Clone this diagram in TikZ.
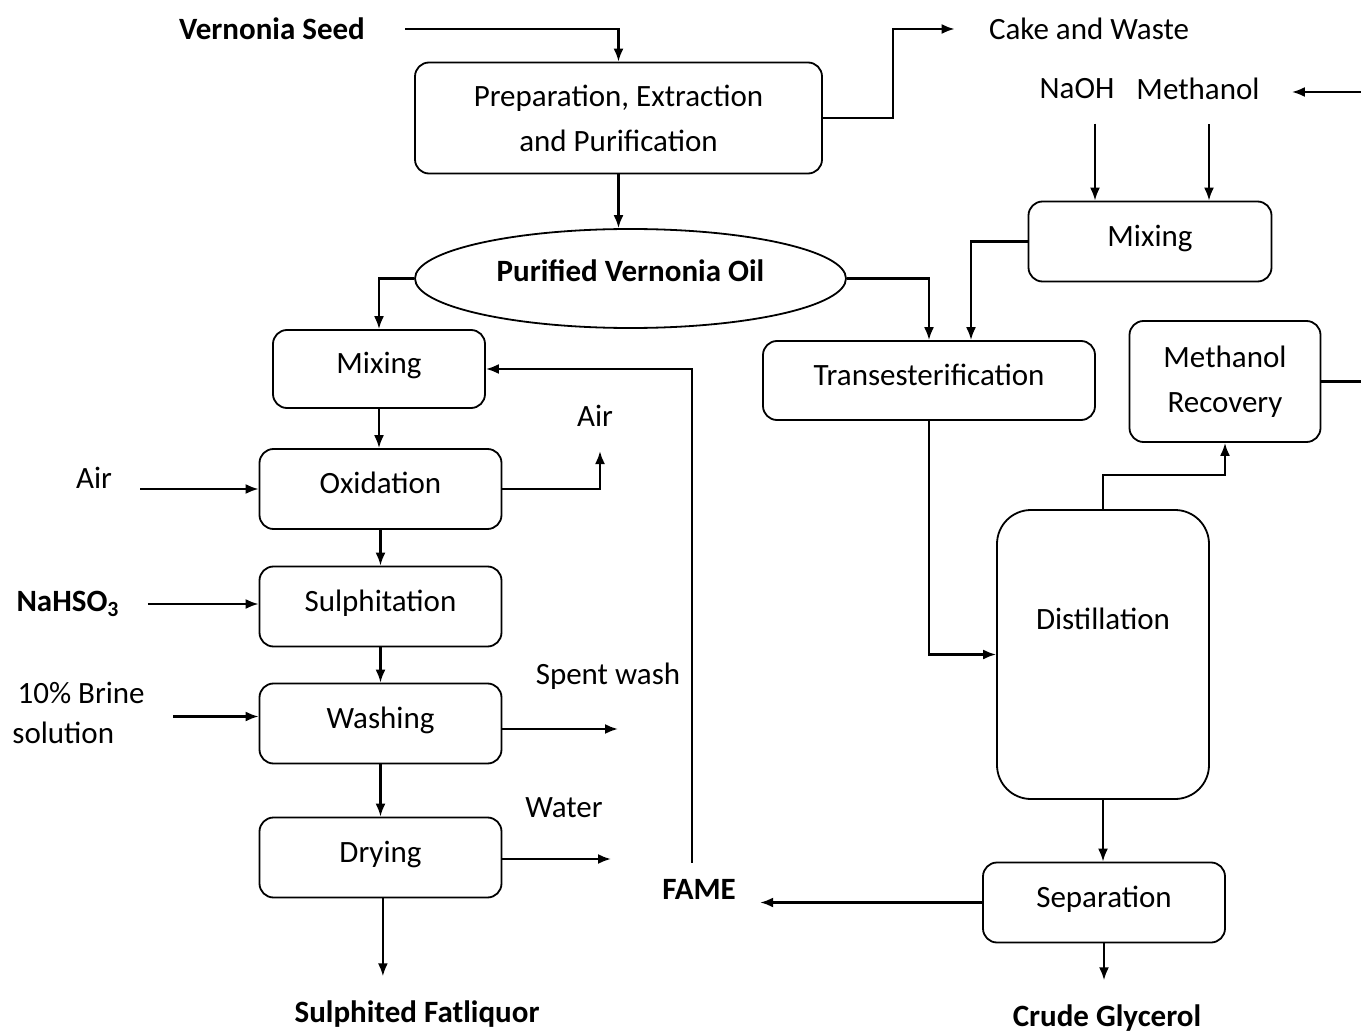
\documentclass[tikz,border=0pt]{standalone}
\usepackage{fontspec}
\setmainfont{Carlito}
\usepackage{tikz}
\usetikzlibrary{arrows.meta,shapes.geometric}
\definecolor{fledge}{RGB}{0,0,0}
\tikzset{
  stage/.style={
    draw=fledge, line width=0.9pt, rounded corners=7pt,
    align=center, inner sep=2pt, font=\fontsize{15.5}{22.5}\selectfont
  },
  step1/.style={stage, text depth=6pt},
  tank/.style={stage, rounded corners=17pt},
  oilbox/.style={
    draw=fledge, line width=0.9pt, ellipse, inner sep=0pt,
    font=\fontsize{15.5}{22.5}\selectfont\bfseries
  },
  lbl/.style={inner sep=2pt, align=center, font=\fontsize{15.5}{20}\selectfont},
  blbl/.style={lbl, font=\fontsize{15.5}{20}\selectfont\bfseries},
  arr/.style={-{Latex[length=6.5pt,width=5pt]}, draw=fledge, line width=1.1pt},
  every picture/.append style={line join=miter}
}

\begin{document}
\begin{tikzpicture}[x=0.5pt,y=-0.5pt]
  % Vernonia oil to fatliquor (left) and biodiesel side (right).
  \useasboundingbox (0,0) rectangle (1361,1032);
  \node[stage, minimum width=203.5pt, minimum height=55.5pt] (prep) at (618.5,118) {Preparation, Extraction\\and Purification};
  \node[oilbox, minimum width=215.5pt, minimum height=49.5pt] (oil) at (630.5,278.5) {\raisebox{7.5pt}{Purified Vernonia Oil}};
  \node[step1, minimum width=106pt, minimum height=39pt] (mixa) at (379,369) {Mixing};
  \node[step1, minimum width=121pt, minimum height=40pt] (ox) at (380.5,489) {Oxidation};
  \node[step1, minimum width=121pt, minimum height=40pt] (sulph) at (380.5,606.5) {Sulphitation};
  \node[step1, minimum width=121pt, minimum height=40pt] (wash) at (380.5,723.5) {Washing};
  \node[step1, minimum width=121pt, minimum height=40pt] (dry) at (380.5,857.5) {Drying};
  \node[step1, minimum width=166pt, minimum height=39.5pt] (trans) at (929,380.5) {Transesterification};
  \node[step1, minimum width=121.5pt, minimum height=40pt] (mixb) at (1150,241.5) {Mixing};
  \node[stage, minimum width=95.5pt, minimum height=60.5pt] (recov) at (1225,381.5) {Methanol\\Recovery};
  \node[tank, minimum width=106pt, minimum height=144.5pt] (dist) at (1103,654.5) {\raisebox{36pt}{Distillation}};
  \node[step1, minimum width=121pt, minimum height=40pt] (sep) at (1104,902.5) {Separation};

  \node[blbl] (seed) at (272,29) {Vernonia Seed};
  \node[lbl] (cake) at (1089,29) {Cake and Waste};
  \node[lbl] (naoh) at (1077,89) {NaOH};
  \node[lbl] (meoh) at (1198,89) {Methanol};
  \node[lbl] (air) at (94,478) {Air};
  \node[blbl] (nahso) at (68,604) {NaHSO\textsubscript{3}};
  \node[lbl, align=left, anchor=west] (brine) at (8,712.5) {\,10\% Brine\\solution};
  \node[lbl] (airout) at (595,416) {Air};
  \node[lbl] (spent) at (608,676) {Spent wash};
  \node[lbl] (water) at (564,808) {Water};
  \node[blbl] (fatliq) at (417,1014) {Sulphited Fatliquor};
  \node[blbl] (fame) at (699,889) {FAME};
  \node[blbl] (glyc) at (1107,1018) {Crude Glycerol};
  \coordinate (spentend) at (618,729);
  \coordinate (waterend) at (611,859);
  \coordinate (mein) at (1361,92);
  \coordinate (recend) at (1361,381);

  \draw[arr, shorten <=18pt] (seed.east) -| (prep.north);
  \draw[arr, shorten >=15pt] (prep.east) -- ++(70,0) |- (cake.west);
  \draw[arr] (prep.south) -- (prep.south |- oil.north);
  \draw[arr] (oil.west) -| (mixa.north);
  \draw[arr] (oil.east) -| (trans.north);
  \draw[arr, shorten >=14pt] (mein) -- (mein -| meoh.east);
  \draw[arr, shorten <=10pt] ([xshift=9pt]naoh.south) -- ([xshift=9pt]naoh.south |- mixb.north);
  \draw[arr, shorten <=10pt] ([xshift=5.5pt]meoh.south) -- ([xshift=5.5pt]meoh.south |- mixb.north);
  \draw[arr] (mixb.west) -| ([xshift=21pt]trans.north);
  \draw[arr] (mixa.south) -- (mixa.south |- ox.north);
  \draw[arr] (ox) -- (sulph);
  \draw[arr] (sulph) -- (wash);
  \draw[arr] (wash) -- (dry);
  \draw[arr, shorten >=10pt] ([xshift=1.2pt]dry.south) -- ([xshift=1.2pt]dry.south |- fatliq.north);
  \draw[arr, shorten <=12pt] (air.east |- ox.west) -- (ox.west);
  \draw[arr, shorten <=12pt] (nahso.east) -- (nahso.east -| sulph.west);
  \draw[arr, shorten <=12pt] ([yshift=-2pt]brine.east) -- ([yshift=-2pt]brine.east -| wash.west);
  \draw[arr, shorten >=10pt] (ox.east) -| ([xshift=2.5pt]airout.south);
  \draw[arr] (wash.east |- spentend) -- (spentend);
  \draw[arr] (dry.east |- waterend) -- (waterend);
  \draw[arr, shorten >=10pt] (sep.west) -- (sep.west -| fame.east);
  \draw[arr, shorten <=6pt] ([xshift=-3.5pt]fame.north) |- (mixa.east);
  \draw[arr] (trans.south) |- (dist.west);
  \draw[arr] (dist.north) -- ++(0,-34) -| (recov.south);
  \draw[arr] (dist.south) -- (dist.south |- sep.north);
  \draw[arr, shorten >=10pt] (sep.south) -- (sep.south |- glyc.north);
  \draw[fledge, line width=1.1pt] (recov.east) -- (recov.east -| recend);
\end{tikzpicture}
\end{document}
